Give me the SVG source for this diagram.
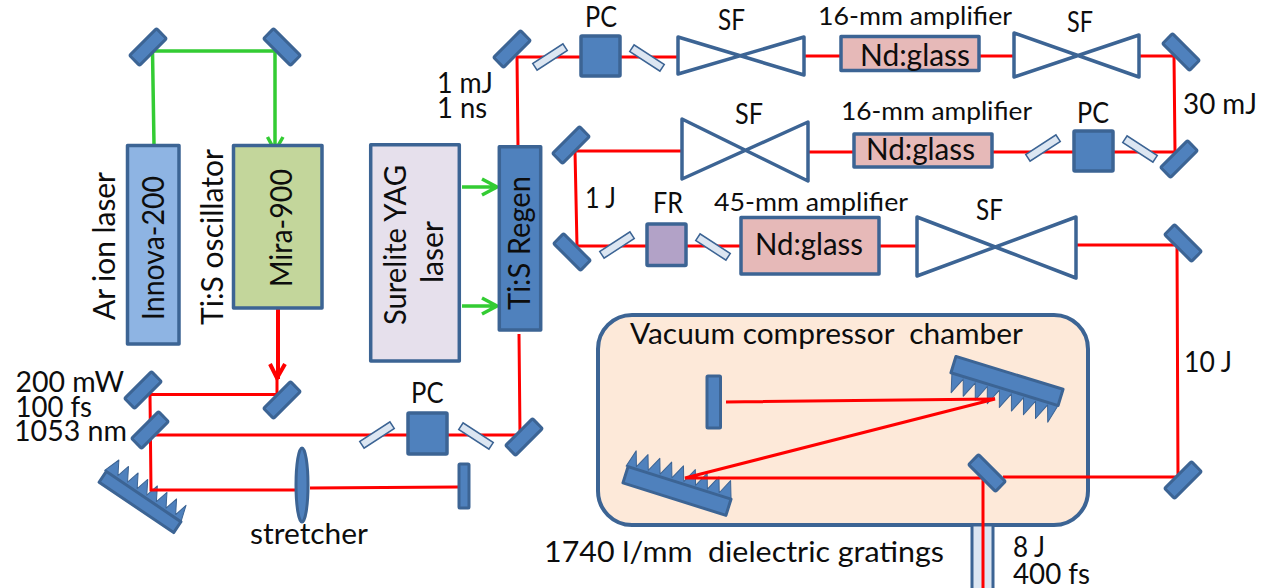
<svg xmlns="http://www.w3.org/2000/svg" width="1265" height="588" viewBox="0 0 1265 588">
<style>
text{font-family:"Lato","Liberation Sans",sans-serif;font-size:28px;fill:#0d0d0d}
.s{font-size:25px}
.b{font-size:30px}
.bx{stroke:#3c6494;stroke-width:3.5;stroke-linejoin:round}
.blue{fill:#4f81bd}
.m{fill:#4f81bd;stroke:#3c6494;stroke-width:3;stroke-linejoin:round}
.t{fill:#4f81bd;stroke:#3c6494;stroke-width:1;stroke-linejoin:round}
.p{fill:#dce6f2;stroke:#3c6494;stroke-width:1.5}
.sf{fill:none;stroke:#3c6494;stroke-width:3.5;stroke-linejoin:round}
.amp{fill:#e6b9b8}
.r{fill:none;stroke:#ff0000;stroke-width:3}
.g{fill:none;stroke:#33cc33;stroke-width:3.500}
</style>
<defs>
<rect id="mir" x="-19" y="-7" width="38" height="14" rx="1.5" class="m"/>
<rect id="pol" x="-18" y="-4" width="36" height="8" class="p"/>
</defs>

<g id="chamber"><rect x="598" y="315" width="490" height="210" rx="34" fill="#fde9d9" stroke="#3c6494" stroke-width="4"/></g>
<g id="tube"><rect x="972" y="525" width="21" height="66" fill="#dce6f2" stroke="#3c6494" stroke-width="3"/></g>
<g id="grating-stretcher" transform="translate(140,502) rotate(34)">
<polygon class="t" points="-47,-6.500 -41,-23 -33,-9.500 -29.400,-23 -21.400,-9.500 -17.800,-23 -9.800,-9.500 -6.200,-23 1.800,-9.500 5.400,-23 13.400,-9.500 17,-23 25,-9.500 28.600,-23 36.600,-9.500 40,-23 45,-6.500"/>
<rect x="-45" y="-6.500" width="90" height="13" class="m"/></g>
<g id="grating-upper" transform="translate(1007,381) rotate(17)">
<polygon class="t" points="-55,8.500 -50,27.500 -42.400,11 -37.400,27.500 -29.800,11 -24.800,27.500 -17.200,11 -12.200,27.500 -4.600,11 .4,27.500 8,11 13,27.500 20.600,11 25.600,27.500 33.200,11 38.200,27.500 45.800,11 51,27.500 56,8.500"/>
<rect x="-56" y="-8.500" width="112" height="17" class="m"/></g>
<g id="grating-lower" transform="translate(677,491) rotate(17.500)">
<polygon class="t" points="-56,-8.500 -51,-26 -46,-11 -38.600,-26 -33.600,-11 -26.200,-26 -21.200,-11 -13.800,-26 -8.800,-11 -1.400,-26 3.600,-11 11,-26 16,-11 23.400,-26 28.400,-11 35.800,-26 40.800,-11 48,-26 54,-8.500"/>
<rect x="-54" y="-8.500" width="108" height="17" class="m"/></g>

<g id="connectors">
<path class="g" d="M154 145L152.500 51H275V150M267.500 137L275 151L283 137"/>
<path class="g" d="M462 187H496M482 179L497 187L482 195"/>
<path class="g" d="M462 306H496M482 298L497 306L482 314"/>
<path class="r" style="stroke-width:4" d="M278 308V379M270 364L277 378L285 364"/>
<path class="r" d="M277 379V394.500H150L151 490H296"/>
<path class="r" d="M310 488L458 487"/>
<path class="r" d="M151 435H520L519 334"/>
<path class="r" d="M518 147L517 57H678"/>
<path class="r" d="M805 56H841M979 56H1014M1139 56H1174L1175 152H992"/>
<path class="r" d="M854 152H808M682 151H575L577 246H741"/>
<path class="r" d="M879 246H917M1077 245H1177L1178 477H1003"/>
<path class="r" d="M983 478H685L995 399L726 402"/>
<path class="r" d="M983 479V588"/>
</g>

<g id="mirror-1"><use href="#mir" transform="translate(148,47) rotate(-45)"/></g>
<g id="mirror-2"><use href="#mir" transform="translate(282,47) rotate(45)"/></g>
<g id="mirror-3"><use href="#mir" transform="translate(512,49) rotate(-45)"/></g>
<g id="mirror-4"><use href="#mir" transform="translate(1181,52) rotate(45)"/></g>
<g id="mirror-5"><use href="#mir" transform="translate(1179,159) rotate(-45)"/></g>
<g id="mirror-6"><use href="#mir" transform="translate(571,145) rotate(-45)"/></g>
<g id="mirror-7"><use href="#mir" transform="translate(572,252) rotate(45)"/></g>
<g id="mirror-8"><use href="#mir" transform="translate(1183,243) rotate(45)"/></g>
<g id="mirror-9"><use href="#mir" transform="translate(1183,480) rotate(-45)"/></g>
<g id="mirror-10"><use href="#mir" transform="translate(987,473) rotate(45)"/></g>
<g id="mirror-11"><use href="#mir" transform="translate(143,390) rotate(-45)"/></g>
<g id="mirror-12"><use href="#mir" transform="translate(150,430) rotate(-45)"/></g>
<g id="mirror-13"><use href="#mir" transform="translate(282,400) rotate(-45)"/></g>
<g id="mirror-14"><use href="#mir" transform="translate(524,437) rotate(-45)"/></g>

<g id="pol-1"><use href="#pol" transform="translate(550,57) rotate(-33)"/></g>
<g id="pol-2"><use href="#pol" transform="translate(647,58) rotate(33)"/></g>
<g id="pol-3"><use href="#pol" transform="translate(1043,148) rotate(-33)"/></g>
<g id="pol-4"><use href="#pol" transform="translate(1140,149) rotate(33)"/></g>
<g id="pol-5"><use href="#pol" transform="translate(617,245) rotate(-33)"/></g>
<g id="pol-6"><use href="#pol" transform="translate(713,247) rotate(33)"/></g>
<g id="pol-7"><use href="#pol" transform="translate(377,435) rotate(-33)"/></g>
<g id="pol-8"><use href="#pol" transform="translate(476,436) rotate(33)"/></g>

<g id="innova"><rect class="bx" x="127.500" y="145.500" width="51.500" height="198.500" fill="#8eb4e3"/>
<text class="b" transform="translate(164,320) rotate(-90)" textLength="144" lengthAdjust="spacingAndGlyphs">Innova-200</text></g>
<text class="b" transform="translate(115,320) rotate(-90)" textLength="148" lengthAdjust="spacingAndGlyphs">Ar ion laser</text>
<g id="mira"><rect class="bx" x="233.500" y="145.500" width="88.500" height="162.500" fill="#c3d69b"/>
<text class="b" transform="translate(292,287) rotate(-90)" textLength="118" lengthAdjust="spacingAndGlyphs">Mira-900</text></g>
<text class="b" transform="translate(222.700,325) rotate(-90)" textLength="176" lengthAdjust="spacingAndGlyphs">Ti:S oscillator</text>
<g id="surelite"><rect class="bx" x="370.700" y="144.700" width="88.600" height="216.300" fill="#e6e0ec"/>
<text class="b" transform="translate(406,325) rotate(-90)" textLength="160" lengthAdjust="spacingAndGlyphs">Surelite YAG</text>
<text class="b" transform="translate(443,283) rotate(-90)" textLength="62" lengthAdjust="spacingAndGlyphs">laser</text></g>
<g id="regen"><rect class="bx" x="499.300" y="146.700" width="41.400" height="183.300" fill="#4f81bd"/>
<text class="b" transform="translate(530,310) rotate(-90)" textLength="134" lengthAdjust="spacingAndGlyphs">Ti:S Regen</text></g>

<g id="pc-1"><rect class="bx blue" x="581" y="36" width="39" height="40" rx="1"/><text x="585" y="27" textLength="32" lengthAdjust="spacingAndGlyphs">PC</text></g>
<g id="pc-2"><rect class="bx blue" x="1074" y="131" width="39" height="40" rx="1"/><text x="1077" y="123" textLength="32" lengthAdjust="spacingAndGlyphs">PC</text></g>
<g id="pc-3"><rect class="bx blue" x="408" y="413" width="39" height="41" rx="1"/><text x="411" y="403" textLength="32.500" lengthAdjust="spacingAndGlyphs">PC</text></g>
<g id="fr"><rect class="bx" x="647" y="224" width="39" height="41.500" rx="1" fill="#b2a2c7"/><text x="653" y="213" textLength="30" lengthAdjust="spacingAndGlyphs">FR</text></g>

<g id="amp-1"><rect class="bx amp" x="841" y="36.500" width="138" height="34"/><text class="b" x="860" y="66" textLength="110" lengthAdjust="spacingAndGlyphs">Nd:glass</text><text class="s" x="818" y="25" textLength="194" lengthAdjust="spacingAndGlyphs">16-mm amplifier</text></g>
<g id="amp-2"><rect class="bx amp" x="854" y="134" width="138" height="33"/><text class="b" x="866" y="160" textLength="109" lengthAdjust="spacingAndGlyphs">Nd:glass</text><text class="s" x="841" y="120" textLength="191" lengthAdjust="spacingAndGlyphs">16-mm amplifier</text></g>
<g id="amp-3"><rect class="bx amp" x="741" y="217.500" width="138" height="56.500"/><text class="b" x="755" y="255" textLength="108" lengthAdjust="spacingAndGlyphs">Nd:glass</text><text class="s" x="714" y="211" textLength="194" lengthAdjust="spacingAndGlyphs">45-mm amplifier</text></g>

<g id="sf-1"><polygon class="sf" points="678,37 804,75 804,37 678,74"/><text x="718" y="30" textLength="27" lengthAdjust="spacingAndGlyphs">SF</text></g>
<g id="sf-2"><polygon class="sf" points="1014,33 1139,77 1139,35 1014,77"/><text x="1067" y="32" textLength="26" lengthAdjust="spacingAndGlyphs">SF</text></g>
<g id="sf-3"><polygon class="sf" points="682,119 808,181 808,122 682,179"/><text x="735" y="124" textLength="28" lengthAdjust="spacingAndGlyphs">SF</text></g>
<g id="sf-4"><polygon class="sf" points="917,217 1076,278 1076,217 917,276"/><text x="976" y="220" textLength="27" lengthAdjust="spacingAndGlyphs">SF</text></g>

<g id="lens"><ellipse class="m" cx="302" cy="485" rx="6" ry="37"/><text x="250" y="544" textLength="118" lengthAdjust="spacingAndGlyphs">stretcher</text></g>
<g id="end-mirror-1"><rect class="m" x="459" y="464" width="10" height="44" rx="1"/></g>
<g id="end-mirror-2"><rect class="m" x="707" y="376" width="13.500" height="52" rx="1"/></g>

<text><tspan x="437" y="93" textLength="56" lengthAdjust="spacingAndGlyphs">1 mJ</tspan><tspan x="437" y="118" textLength="50" lengthAdjust="spacingAndGlyphs">1 ns</tspan></text>
<text x="1183" y="114" textLength="74" lengthAdjust="spacingAndGlyphs">30 mJ</text>
<text x="585" y="208" textLength="31" lengthAdjust="spacingAndGlyphs">1 J</text>
<text x="1184" y="372" textLength="48" lengthAdjust="spacingAndGlyphs">10 J</text>
<text><tspan x="15.500" y="392" textLength="108.500" lengthAdjust="spacingAndGlyphs">200 mW</tspan><tspan x="15.500" y="417" textLength="76.500" lengthAdjust="spacingAndGlyphs">100 fs</tspan><tspan x="14" y="441" textLength="113" lengthAdjust="spacingAndGlyphs">1053 nm</tspan></text>
<text x="630" y="344" textLength="393" lengthAdjust="spacingAndGlyphs" xml:space="preserve">Vacuum compressor  chamber</text>
<text x="544" y="562" textLength="400" lengthAdjust="spacingAndGlyphs" xml:space="preserve">1740 l/mm  dielectric gratings</text>
<text><tspan x="1013" y="557" textLength="32" lengthAdjust="spacingAndGlyphs">8 J</tspan><tspan x="1013" y="584" textLength="77" lengthAdjust="spacingAndGlyphs">400 fs</tspan></text>
</svg>
